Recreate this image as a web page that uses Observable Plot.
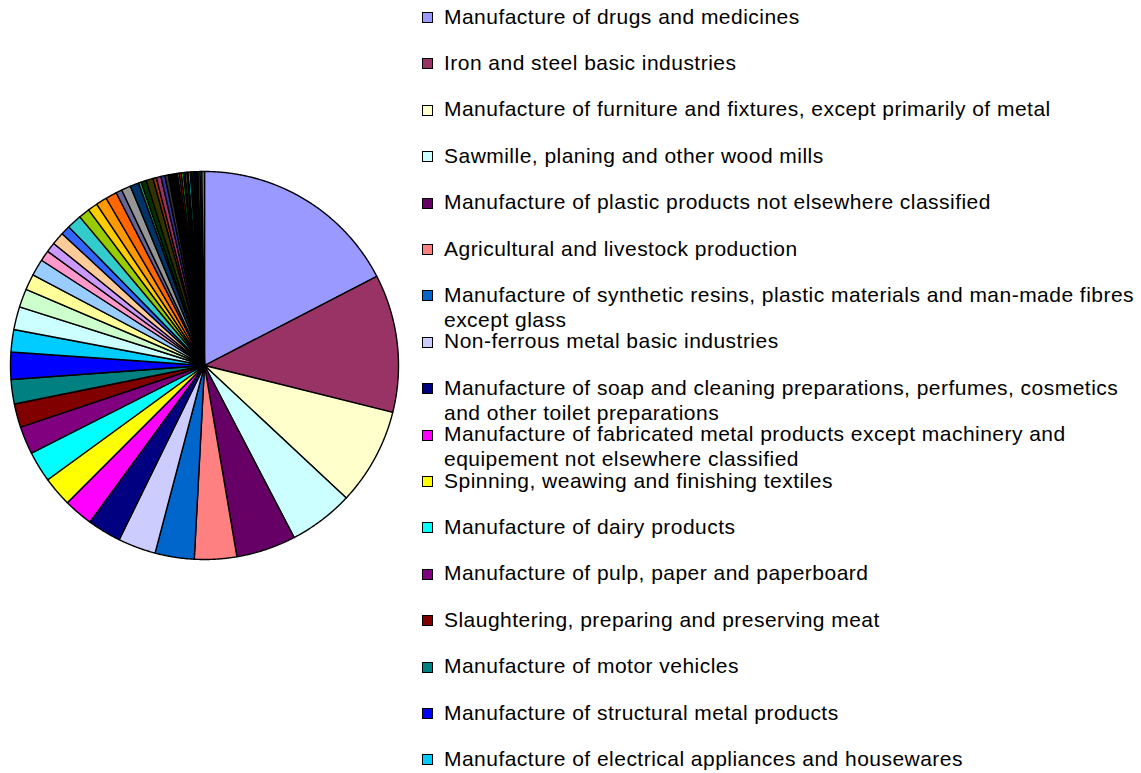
<!DOCTYPE html>
<html>
<head>
<meta charset="utf-8">
<script src="https://cdn.jsdelivr.net/npm/d3@7"></script>
<script src="https://cdn.jsdelivr.net/npm/@observablehq/plot@0.6"></script>
<style>
  html, body { margin: 0; padding: 0; background: #fff; }
  #wrap { position: relative; width: 1141px; height: 773px; overflow: hidden; }
  #chart { position: absolute; left: 0; top: 0; }
  #legend { position: absolute; left: 422px; top: 0; width: 719px; height: 773px;
            font-family: "Liberation Sans", Arial, sans-serif; font-size: 21px; color: #000; }
  .item { position: absolute; left: 0; width: 719px; }
  .sw { position: absolute; left: 0; top: 8.5px; width: 9px; height: 9px; border: 1px solid #000; }
  .tx { position: absolute; left: 22px; top: 0; line-height: 25px; width: 697px; white-space: pre;
        letter-spacing: 0.47px; }
</style>
</head>
<body>
<div id="wrap"><div id="chart"></div><div id="legend"></div></div>
<script>
// Share of each sector (percent), in pie order (clockwise from 12 o'clock)
const values = [17.39, 11.47, 8.06, 5.39, 4.97, 3.51, 3.26, 3.14, 2.81, 2.44, 2.47, 2.56, 2.31, 1.97, 2.03, 2.25, 1.86,
  1.92, 1.53, 1.31, 1.39, 0.89, 0.81, 1.06, 0.78, 1.22, 0.92, 0.81, 0.92, 0.94, 0.50, 0.78, 0.72, 0.22, 0.44, 0.58,
  0.28, 0.39, 0.33, 0.28, 0.78, 0.14, 0.17, 0.17, 0.14, 0.14, 0.11, 0.17, 0.14, 0.14, 0.14, 0.11, 0.11, 0.17, 0.14, 0.22];

const colors = ["#9999FF", "#993366", "#FFFFCC", "#CCFFFF", "#660066", "#FF8080", "#0066CC", "#CCCCFF", "#000080",
  "#FF00FF", "#FFFF00", "#00FFFF", "#800080", "#800000", "#008080", "#0000FF", "#00CCFF", "#CCFFFF", "#CCFFCC",
  "#FFFF99", "#99CCFF", "#FF99CC", "#CC99FF", "#FFCC99", "#3366FF", "#33CCCC", "#99CC00", "#FFCC00", "#FF9900",
  "#FF6600", "#666699", "#969696", "#003366", "#339966", "#003300", "#333300", "#993300", "#993366", "#333399",
  "#333333", "#000000", "#FFFFFF", "#FF0000", "#00FF00", "#0000FF", "#FFFF00", "#FF00FF", "#00FFFF", "#800000",
  "#008000", "#000080", "#808000", "#800080", "#008080", "#C0C0C0", "#808080"];

// Legend labels (visible part of the legend), line breaks as in the picture
const labels = [
  "Manufacture of drugs and medicines",
  "Iron and steel basic industries",
  "Manufacture of furniture and fixtures, except primarily of metal",
  "Sawmille, planing and other wood mills",
  "Manufacture of plastic products not elsewhere classified",
  "Agricultural and livestock production",
  "Manufacture of synthetic resins, plastic materials and man-made fibres\nexcept glass",
  "Non-ferrous metal basic industries",
  "Manufacture of soap and cleaning preparations, perfumes, cosmetics\nand other toilet preparations",
  "Manufacture of fabricated metal products except machinery and\nequipement not elsewhere classified",
  "Spinning, weawing and finishing textiles",
  "Manufacture of dairy products",
  "Manufacture of pulp, paper and paperboard",
  "Slaughtering, preparing and preserving meat",
  "Manufacture of motor vehicles",
  "Manufacture of structural metal products",
  "Manufacture of electrical appliances and housewares"
];

// Build slice outlines (unit circle) from pie angles
const arcs = d3.pie().sort(null).value(d => d)(values);
const pts = [];
arcs.forEach((a, i) => {
  const col = colors[i % colors.length];
  pts.push({i, x: 0, y: 0, c: col});
  const n = Math.max(2, Math.ceil((a.endAngle - a.startAngle) / 0.005));
  for (let k = 0; k <= n; k++) {
    const t = a.startAngle + (a.endAngle - a.startAngle) * k / n;
    pts.push({i, x: Math.sin(t), y: Math.cos(t), c: col});
  }
  pts.push({i, x: 0, y: 0, c: col});
});

const chart = Plot.plot({
  width: 410,
  height: 773,
  marginLeft: 10,
  marginRight: 12,
  marginTop: 171,
  marginBottom: 214,
  x: {domain: [-1, 1], axis: null},
  y: {domain: [-1, 1], axis: null},
  color: {type: "identity"},
  style: {background: "white"},
  marks: [
    Plot.line(pts, {x: "x", y: "y", z: "i", fill: "c", stroke: "#000", strokeWidth: 1.4,
      strokeLinejoin: "round", curve: "linear"})
  ]
});
document.getElementById("chart").appendChild(chart);

// Legend
const legend = document.getElementById("legend");
labels.forEach((lab, i) => {
  const it = document.createElement("div");
  it.className = "item";
  it.style.top = (3.5 + 46.4 * i) + "px";
  const sw = document.createElement("div");
  sw.className = "sw";
  sw.style.background = colors[i];
  const tx = document.createElement("div");
  tx.className = "tx";
  tx.textContent = lab;
  it.appendChild(sw);
  it.appendChild(tx);
  legend.appendChild(it);
});
</script>
</body>
</html>
